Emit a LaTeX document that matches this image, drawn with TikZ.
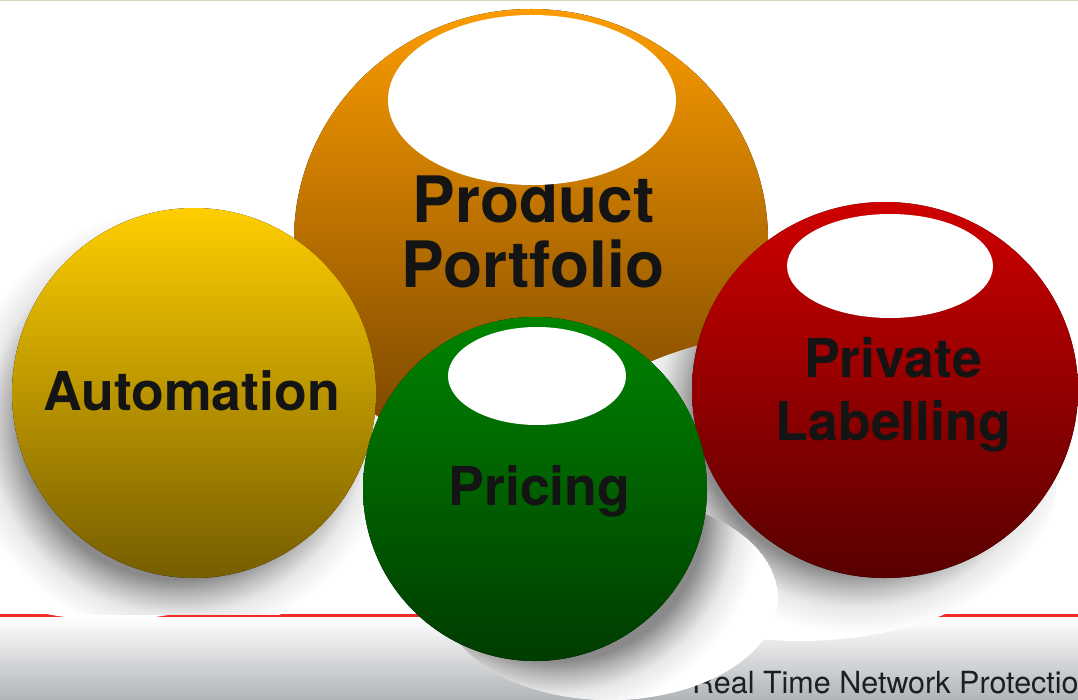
\documentclass[tikz,border=0pt]{standalone}
\usepackage{fontspec}
\setmainfont{TeX Gyre Heros}
\definecolor{orangeT}{RGB}{252,156,0}
\definecolor{orangeM}{RGB}{204,124,0}
\definecolor{orangeB}{RGB}{112,64,0}
\definecolor{yellowT}{RGB}{255,206,0}
\definecolor{yellowM}{RGB}{206,166,0}
\definecolor{yellowB}{RGB}{118,93,0}
\definecolor{greenT}{RGB}{0,132,0}
\definecolor{greenM}{RGB}{0,100,0}
\definecolor{greenB}{RGB}{0,60,0}
\definecolor{redT}{RGB}{206,0,0}
\definecolor{redM}{RGB}{158,0,0}
\definecolor{redB}{RGB}{88,0,0}
\definecolor{labeltext}{RGB}{20,20,20}
\definecolor{foottext}{RGB}{30,30,30}
\definecolor{footred}{RGB}{240,44,40}
\definecolor{footgray}{RGB}{176,180,184}
\definecolor{topline}{RGB}{214,214,182}
\definecolor{haloA}{RGB}{138,138,138}
\definecolor{haloB}{RGB}{185,185,185}
\definecolor{haloC}{RGB}{232,232,232}
\pgfdeclareradialshading{halo}{\pgfpoint{0bp}{0bp}}{color(0bp)=(haloA); color(18bp)=(haloA); color(19.8bp)=(haloB); color(22bp)=(haloC); color(25bp)=(white); color(50bp)=(white)}
\begin{document}
\begin{tikzpicture}[x=1bp,y=-1bp,
  lbl/.style={anchor=base, inner sep=0pt, text=labeltext, font=\bfseries\fontsize{53.6bp}{60bp}\selectfont},
  biglbl/.style={lbl, font=\bfseries\fontsize{64bp}{70bp}\selectfont},
  hilite/.style={fill=white},
  floor/.style={fill=white},
  halofill/.style={shading=halo}]
\useasboundingbox (0,0) rectangle (1078,700);
\fill[white] (0,0) rectangle (1078,700);
% header and footer
\draw[topline, line width=2bp] (0,0) -- (1078,0);
\shade[top color=white, bottom color=footgray] (0,617) rectangle (1078,700);
\draw[footred, line width=3bp] (0,615.5) -- (1078,615.5);
\node[anchor=base west, inner sep=0pt, text=foottext, font=\fontsize{30.5bp}{34bp}\selectfont] (foot) at (692,693) {Real Time Network Protection};
% yellow ball floor shadow (drawn first, under the orange ball)
\coordinate (yc) at (194,393);
\fill[floor] (110,520) ellipse[x radius=185bp, y radius=100bp];
\begin{scope}
  \clip (-10,-10) rectangle (1088,614);
  \shade[halofill] (178,423) circle[radius=217bp];
\end{scope}
% orange ball
\coordinate (oc) at (531,240);
\fill[top color=orangeT, middle color=orangeM, bottom color=orangeB] (oc) ellipse[x radius=237bp, y radius=231bp];
\node[biglbl] (product) at (533.5,222) {Product};
\node[biglbl] (portfolio) at (533,287) {Portfolio};
\fill[hilite] (532,100) ellipse[x radius=144bp, y radius=85bp];
% yellow ball
\fill[top color=yellowT, middle color=yellowM, bottom color=yellowB] (yc) ellipse[x radius=182bp, y radius=185bp];
\node[lbl] (automation) at (191.5,410) {Automation};
% red ball
\coordinate (rc) at (885,390);
\begin{scope}
  \clip (800,487) ellipse[x radius=256bp, y radius=154bp];
  \fill[floor] (800,487) ellipse[x radius=256bp, y radius=154bp];
  \shade[halofill] (857,410) circle[radius=224bp];
\end{scope}
\fill[top color=redT, middle color=redM, bottom color=redB] (rc) ellipse[x radius=193bp, y radius=188bp];
\node[lbl] (private) at (893,377) {Private};
\node[lbl] (labelling) at (893.5,440) {Labelling};
\fill[hilite] (890,266) ellipse[x radius=103bp, y radius=52bp];
% green ball
\coordinate (gc) at (535,489);
\begin{scope}
  \clip (610,598) ellipse[x radius=168bp, y radius=102bp];
  \fill[floor] (610,598) ellipse[x radius=168bp, y radius=102bp];
  \shade[halofill] (557,513) circle[radius=205bp];
\end{scope}
\fill[top color=greenT, middle color=greenM, bottom color=greenB] (gc) circle[radius=172bp];
\node[lbl] (pricing) at (539.5,505) {Pricing};
\fill[hilite] (537,376) ellipse[x radius=89bp, y radius=49bp];
\end{tikzpicture}
\end{document}
